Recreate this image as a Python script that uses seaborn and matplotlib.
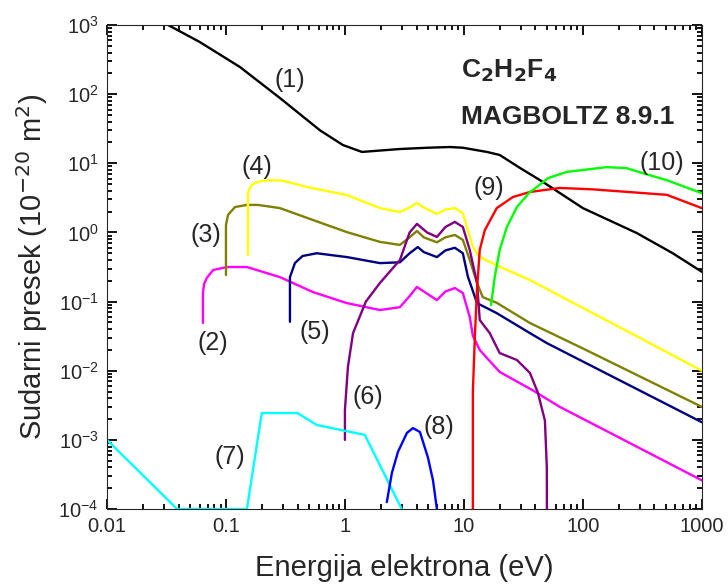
import numpy as np
import seaborn as sns
import matplotlib
matplotlib.use('Agg')
import matplotlib.pyplot as plt
from matplotlib import ticker

# Energies (eV) and cross sections (1e-20 m^2), one pair per process.
e1 = [0.025, 0.0326, 0.06, 0.131, 0.284, 0.617, 0.96, 1.39, 2.9, 5.0, 7.6, 9.8, 12, 15.6, 20, 29.5, 46, 100, 284, 570, 1000]
s1 = [1400, 1000, 570, 247, 88, 30, 18.4, 14.6, 16.1, 16.8, 17.2, 16.8, 15.8, 14.6, 13.2, 8.6, 5.4, 2.25, 0.98, 0.50, 0.27]

e2 = [0.064, 0.064, 0.0655, 0.069, 0.078, 0.102, 0.15, 0.284, 0.54, 1.04, 1.97, 2.9, 3.5, 4.03, 4.6, 5.93, 7.0, 8.4, 9.8, 11.2, 11.9, 13.6, 15.6, 20, 38, 64, 200, 1000]
s2 = [0.049, 0.133, 0.18, 0.22, 0.286, 0.316, 0.316, 0.226, 0.137, 0.095, 0.0755, 0.083, 0.12, 0.163, 0.14, 0.105, 0.14, 0.157, 0.133, 0.06, 0.032, 0.02, 0.0153, 0.0096, 0.0052, 0.003, 0.00109, 0.00026]

e3 = [0.1, 0.1, 0.104, 0.119, 0.15, 0.186, 0.284, 0.54, 1.04, 1.97, 2.9, 3.5, 4.03, 4.6, 5.93, 7.0, 8.4, 9.8, 11.2, 12.9, 14.4, 18.9, 35.9, 100, 300, 1000]
s3 = [0.242, 1.28, 1.79, 2.33, 2.5, 2.5, 2.25, 1.51, 1.01, 0.73, 0.66, 0.85, 1.05, 0.85, 0.72, 0.85, 0.92, 0.78, 0.40, 0.186, 0.116, 0.096, 0.049, 0.021, 0.0083, 0.003]

e4 = [0.153, 0.153, 0.158, 0.165, 0.18, 0.2, 0.234, 0.3, 0.48, 1.04, 1.97, 2.9, 3.5, 4.03, 4.6, 5.93, 7.0, 8.4, 9.8, 11.9, 13.6, 20, 35.9, 100, 300, 1000]
s4 = [0.47, 3.7, 4.3, 4.85, 5.3, 5.55, 5.7, 5.6, 4.54, 3.47, 2.25, 1.97, 2.3, 2.66, 2.3, 1.85, 2.15, 2.25, 1.9, 0.615, 0.44, 0.32, 0.205, 0.081, 0.030, 0.01]

e5 = [0.345, 0.345, 0.38, 0.44, 0.58, 1.04, 1.97, 2.9, 3.5, 4.1, 4.6, 5.93, 7.0, 8.4, 9.8, 10.8, 12.9, 18.9, 35.9, 50, 200, 1000]
s5 = [0.051, 0.226, 0.361, 0.456, 0.50, 0.44, 0.36, 0.37, 0.5, 0.615, 0.52, 0.44, 0.55, 0.6, 0.5, 0.23, 0.095, 0.068, 0.035, 0.025, 0.0074, 0.0018]

e6 = [1.0, 1.0, 1.06, 1.17, 1.5, 1.97, 2.9, 3.5, 4.03, 4.9, 5.93, 7.0, 8.4, 9.8, 11.2, 12.9, 13.6, 16.5, 20, 27.9, 35.9, 41.9, 48, 49.8, 50]
s6 = [0.001, 0.0027, 0.0114, 0.035, 0.1, 0.186, 0.40, 1.0, 1.33, 1.0, 0.86, 1.2, 1.42, 1.2, 0.56, 0.186, 0.054, 0.035, 0.018, 0.0143, 0.0093, 0.0048, 0.0019, 0.0004, 0.00001]

e7 = [0.01, 0.0388, 0.15, 0.2, 0.4, 0.58, 1.47, 3.0]
s7 = [1e-3, 1e-4, 1e-4, 0.00244, 0.00244, 0.00164, 0.00118, 1e-4]

e8 = [2.25, 2.48, 2.79, 3.32, 3.73, 4.27, 4.98, 5.5, 5.93, 6.1]
s8 = [1.26e-4, 3.3e-4, 6.7e-4, 1.26e-3, 1.48e-3, 1.3e-3, 5.6e-4, 2.6e-4, 1e-4, 5e-5]

e9 = [11.9, 11.9, 12.1, 12.4, 12.9, 13.6, 15, 18.9, 25.8, 35.9, 64, 121, 508, 1000]
s9 = [1e-5, 0.005, 0.011, 0.035, 0.15, 0.56, 1.08, 2.25, 3.25, 3.85, 4.4, 4.2, 3.5, 2.25]

e10 = [16.9, 18.2, 20, 23, 27.9, 35.9, 38, 51, 73, 158, 234, 319, 508, 1000]
s10 = [0.089, 0.23, 0.56, 1.2, 2.33, 3.85, 4.1, 6.1, 7.5, 8.8, 8.5, 7.2, 5.7, 3.7]

curves = [(e1, s1, 'black'), (e2, s2, '#ff00ff'), (e3, s3, '#808000'), (e4, s4, '#ffff00'),
          (e5, s5, '#000080'), (e6, s6, '#800080'), (e7, s7, '#00ffff'), (e8, s8, '#0000ff'),
          (e9, s9, '#ff0000'), (e10, s10, '#00ff00')]

# curve labels and where they sit (data coords)
labels = ['(1)', '(2)', '(3)', '(4)', '(5)', '(6)', '(7)', '(8)', '(9)', '(10)']
label_x = [0.345, 0.078, 0.068, 0.182, 0.56, 1.56, 0.108, 6.17, 16.2, 461]
label_y = [160, 0.025, 0.92, 8.8, 0.036, 0.0042, 5.6e-4, 1.55e-3, 4.4, 10]

sns.set_style('ticks')
plt.rcParams['font.family'] = ['Liberation Sans', 'DejaVu Sans']

fig = plt.figure(figsize=(7.28, 5.86), dpi=100)
ax = fig.add_axes([0.147, 0.1314, 0.817, 0.8259])

for e, s, c in curves:
    sns.lineplot(x=e, y=s, ax=ax, color=c, lw=1.7, sort=False, estimator=None)

ax.set_xscale('log')
ax.set_yscale('log')
ax.set_xlim(0.01, 1000)
ax.set_ylim(1e-4, 1e3)

ax.set_xticks([0.01, 0.1, 1, 10, 100, 1000])
ax.xaxis.set_major_formatter(ticker.FuncFormatter(lambda v, p: f'{v:g}'))
ax.xaxis.set_minor_locator(ticker.LogLocator(base=10, subs=np.arange(2, 10), numticks=20))
ax.set_yticks([1e-4, 1e-3, 1e-2, 1e-1, 1, 10, 100, 1000])
ax.yaxis.set_minor_locator(ticker.LogLocator(base=10, subs=np.arange(2, 10), numticks=20))
ax.yaxis.set_minor_formatter(ticker.NullFormatter())
ax.xaxis.set_minor_formatter(ticker.NullFormatter())

# ticks inside on all four sides
ax.tick_params(which='both', direction='in', top=True, right=True, width=1.3, color='black')
ax.tick_params(which='major', length=7, labelsize=14.5, pad=6)
ax.tick_params(which='minor', length=3.8)

ax.set_xlabel('Energija elektrona (eV)', fontsize=21, labelpad=13)
ax.set_ylabel('Sudarni presek (10$^{-20}$ m$^2$)', fontsize=21, labelpad=6)

for lab, x, y in zip(labels, label_x, label_y):
    ax.text(x, y, lab, fontsize=18, ha='center', va='center')

ax.text(0.595, 0.905, r'C$_\mathbf{2}$H$_\mathbf{2}$F$_\mathbf{4}$', transform=ax.transAxes,
        fontsize=19, fontweight='bold', ha='left', va='center')
ax.text(0.595, 0.81, 'MAGBOLTZ 8.9.1', transform=ax.transAxes, fontsize=19, fontweight='bold', ha='left', va='center')

plt.savefig('out.png', dpi=100)
